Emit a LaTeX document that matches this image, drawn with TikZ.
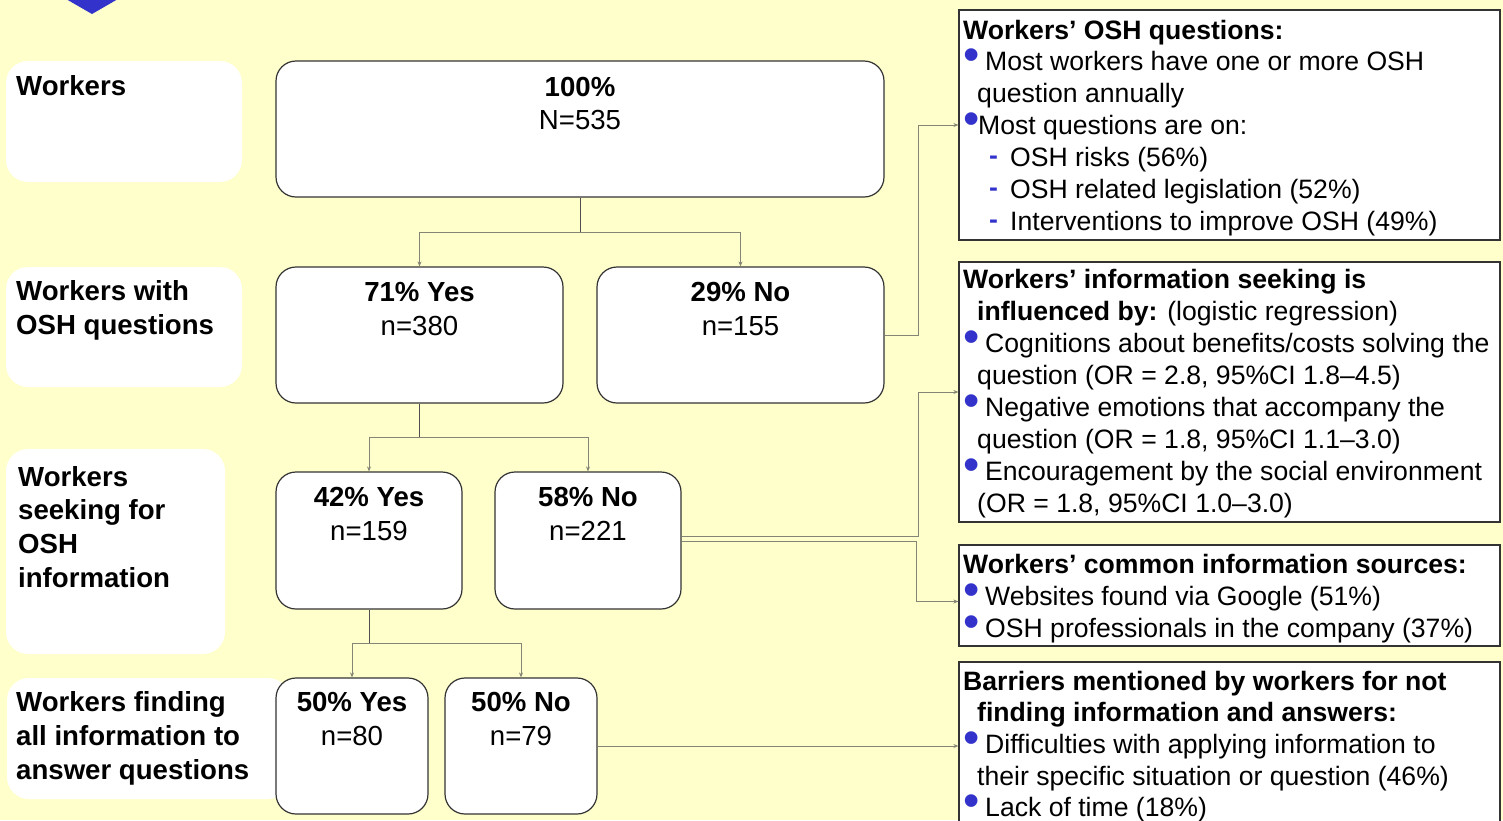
\documentclass[tikz,border=0pt]{standalone}
\usepackage{fontspec}
\setmainfont{Liberation Sans}
\usetikzlibrary{arrows.meta}

\definecolor{bg}{HTML}{FFFFCC}
\definecolor{bblue}{HTML}{3333CC}
\definecolor{edge}{HTML}{333333}
\definecolor{wire}{HTML}{858575}
\definecolor{stem}{HTML}{505050}

\newcommand\fs{\fontsize{26.6pt}{32pt}\selectfont}
\newcommand\fl{\fontsize{27.6pt}{33pt}\selectfont}
\newcommand\bdot{\smash{\textcolor{bblue}{\scalebox{1.75}{•}}}}
\newcommand\bitem{\makebox[22pt][l]{\bdot}}
\newcommand\ditem{\makebox[21pt][l]{\textcolor{bblue}{\bfseries\raisebox{0.05em}{-}}}}

\begin{document}
\begin{tikzpicture}[x=1pt,y=-1pt,
  lab/.style={fill=white, rounded corners=22pt, inner sep=0pt},
  flow/.style={draw=edge, line width=1.2pt, fill=white, rounded corners=20pt, inner sep=0pt},
  info/.style={draw=edge, line width=1.2pt, fill=white, inner sep=0pt},
  txt/.style={inner sep=0pt, anchor=base west, font=\fs},
  btxt/.style={txt, font=\fs\bfseries},
  ltxt/.style={txt, font=\fl\bfseries},
  ctr/.style={inner sep=0pt, anchor=base, font=\fl},
  bctr/.style={ctr, font=\fl\bfseries},
  trunk/.style={draw=stem, line width=1pt},
  branch/.style={draw=wire, line width=1pt, -{Stealth[length=5pt,width=4pt]}},
]
\clip (0,0) rectangle (1503,820);
\fill[bg] (0,0) rectangle (1503,820);
\fill[bblue] (66,-1) -- (118,-1) -- (92,14) -- cycle;

% row labels
\node[lab, minimum width=236pt, minimum height=121pt] (lbA) at (124,121.5) {};
\node[lab, minimum width=236pt, minimum height=120pt] (lbB) at (124,327) {};
\node[lab, minimum width=219pt, minimum height=205pt] (lbC) at (115.5,551.5) {};
\node[lab, minimum width=283pt, minimum height=121pt] (lbD) at (148.5,738.5) {};

\node[ltxt] (lw1) at (16,95.5) {Workers};
\node[ltxt] (lq1) at (16,300.5) {Workers with};
\node[ltxt] (lq2) at (16,334.5) {OSH questions};
\node[ltxt] (ls1) at (18,486.5) {Workers};
\node[ltxt] (ls2) at (18,519.5) {seeking for};
\node[ltxt] (ls3) at (18,553.5) {OSH};
\node[ltxt] (ls4) at (18,587.5) {information};
\node[ltxt] (lf1) at (16,711.5) {Workers finding};
\node[ltxt] (lf2) at (16,745.5) {all information to};
\node[ltxt] (lf3) at (16,779.5) {answer questions};

% flow boxes
\node[flow, minimum width=608pt, minimum height=136pt] (top) at (580,129) {};
\node[flow, minimum width=287pt, minimum height=136pt] (yes1) at (419.5,335) {};
\node[flow, minimum width=287pt, minimum height=136pt] (no1) at (740.5,335) {};
\node[flow, minimum width=186pt, minimum height=137pt] (yes2) at (369,540.5) {};
\node[flow, minimum width=186pt, minimum height=137pt] (no2) at (588,540.5) {};
\node[flow, minimum width=152pt, minimum height=136pt] (yes3) at (352,746) {};
\node[flow, minimum width=152pt, minimum height=136pt] (no3) at (521,746) {};

\node[bctr] (t1) at (580,96.5) {100\%};
\node[ctr] (t2) at (580,129.5) {N=535};
\node[bctr] (y1a) at (419.5,301.5) {71\% Yes};
\node[ctr] (y1b) at (419.5,335.5) {n=380};
\node[bctr] (n1a) at (740.5,301.5) {29\% No};
\node[ctr] (n1b) at (740.5,335.5) {n=155};
\node[bctr] (y2a) at (369,506.5) {42\% Yes};
\node[ctr] (y2b) at (369,540.5) {n=159};
\node[bctr] (n2a) at (588,506.5) {58\% No};
\node[ctr] (n2b) at (588,540.5) {n=221};
\node[bctr] (y3a) at (352,711.5) {50\% Yes};
\node[ctr] (y3b) at (352,745.5) {n=80};
\node[bctr] (n3a) at (521,711.5) {50\% No};
\node[ctr] (n3b) at (521,745.5) {n=79};

% information boxes
\node[info, minimum width=541pt, minimum height=230pt] (i1) at (1229.5,125) {};
\node[info, minimum width=541pt, minimum height=260pt] (i2) at (1229.5,392) {};
\node[info, minimum width=541pt, minimum height=101pt] (i3) at (1229.5,595.5) {};
\node[info, minimum width=541pt, minimum height=178pt] (i4) at (1229.5,751) {};

\node[btxt] (a1) at (963,39.5) {Workers’ OSH questions:};
\node[txt] (a2) at (963,70.7) {\bitem Most workers have one or more OSH};
\node[txt] (a3) at (977,102.5) {question annually};
\node[txt] (a4) at (963,134.3) {\makebox[15pt][l]{\bdot}Most questions are on:};
\node[txt] (a5) at (989,166.3) {\ditem OSH risks (56\%)};
\node[txt] (a6) at (989,198.3) {\ditem OSH related legislation (52\%)};
\node[txt] (a7) at (989,230.3) {\ditem Interventions to improve OSH (49\%)};

\node[btxt] (b1) at (963,288.5) {Workers’ information seeking is};
\node[txt] (b2) at (977,320.5) {\textbf{influenced by:} (logistic regression)};
\node[txt] (b3) at (963,352.5) {\bitem Cognitions about benefits/costs solving the};
\node[txt] (b4) at (977,384.5) {question (OR = 2.8, 95\%CI 1.8–4.5)};
\node[txt] (b5) at (963,416.5) {\bitem Negative emotions that accompany the};
\node[txt] (b6) at (977,448.5) {question (OR = 1.8, 95\%CI 1.1–3.0)};
\node[txt] (b7) at (963,480.5) {\bitem Encouragement by the social environment};
\node[txt] (b8) at (977,512.5) {(OR = 1.8, 95\%CI 1.0–3.0)};

\node[btxt] (c1) at (963,573.5) {Workers’ common information sources:};
\node[txt] (c2) at (963,605) {\bitem Websites found via Google (51\%)};
\node[txt] (c3) at (963,637) {\bitem OSH professionals in the company (37\%)};

\node[btxt] (d1) at (963,690.5) {Barriers mentioned by workers for not};
\node[btxt] (d2) at (977,721.5) {finding information and answers:};
\node[txt] (d3) at (963,753.5) {\bitem Difficulties with applying information to};
\node[txt] (d4) at (977,785.5) {their specific situation or question (46\%)};
\node[txt] (d5) at (963,816.5) {\bitem Lack of time (18\%)};

% tree connectors
\draw[trunk] (top.south) -- ++(0,35) coordinate (s1);
\draw[branch] (s1) -| (yes1.north);
\draw[branch] (s1) -| (no1.north);
\draw[trunk] (yes1.south) -- ++(0,34) coordinate (s2);
\draw[branch] (s2) -| (yes2.north);
\draw[branch] (s2) -| (no2.north);
\draw[trunk] (yes2.south) -- ++(0,34) coordinate (s3);
\draw[branch] (s3) -| (yes3.north);
\draw[branch] (s3) -| (no3.north);

% connectors to the information boxes
\draw[branch] (no1.east) -- ++(34,0) |- (i1.west);
\draw[branch] ([yshift=4pt]no2.east) -- ++(237,0) |- (i2.west);
\draw[branch] ([yshift=-1pt]no2.east) -- ++(235,0) |- ([yshift=-6pt]i3.west);
\draw[branch] (no3.east) -- (no3.east -| i4.west);
\end{tikzpicture}
\end{document}
